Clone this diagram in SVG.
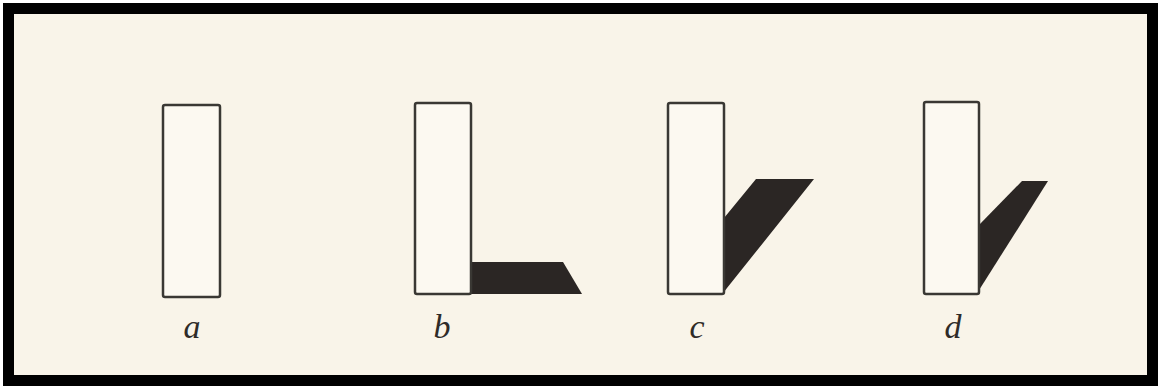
<svg xmlns="http://www.w3.org/2000/svg" width="1161" height="387" viewBox="0 0 1161 387">
<style>
.bar{fill:#fcf9f1;stroke:#3a3834;stroke-width:2.5}
.shadow{fill:#2b2624;stroke:none}
.lbl{font-family:"Liberation Serif","DejaVu Serif",serif;font-style:italic;font-size:34px;fill:#2f2b28;text-anchor:middle}
</style>
<rect x="0" y="0" width="1161" height="387" fill="#ffffff"/>
<rect x="8.5" y="8.5" width="1144" height="372" fill="#f9f4e9" stroke="#000000" stroke-width="11"/>
<g id="a">
<rect class="bar" x="163" y="105" width="57" height="192" rx="2"/>
<text class="lbl" x="192" y="338">a</text>
</g>
<g id="b">
<polygon class="shadow" points="471,262 563,262 582,294 471,294"/>
<rect class="bar" x="415" y="103" width="56" height="191" rx="2"/>
<text class="lbl" x="442" y="338">b</text>
</g>
<g id="c">
<polygon class="shadow" points="724,218 756,179 814,179 727,288 724,292"/>
<rect class="bar" x="668" y="103" width="56" height="191" rx="2"/>
<text class="lbl" x="697" y="338">c</text>
</g>
<g id="d">
<polygon class="shadow" points="979,225 1022,181 1048,181 981,287 979,290"/>
<rect class="bar" x="924" y="102" width="55" height="192" rx="2"/>
<text class="lbl" x="953" y="338">d</text>
</g>
<g id="connectors"></g>
</svg>
